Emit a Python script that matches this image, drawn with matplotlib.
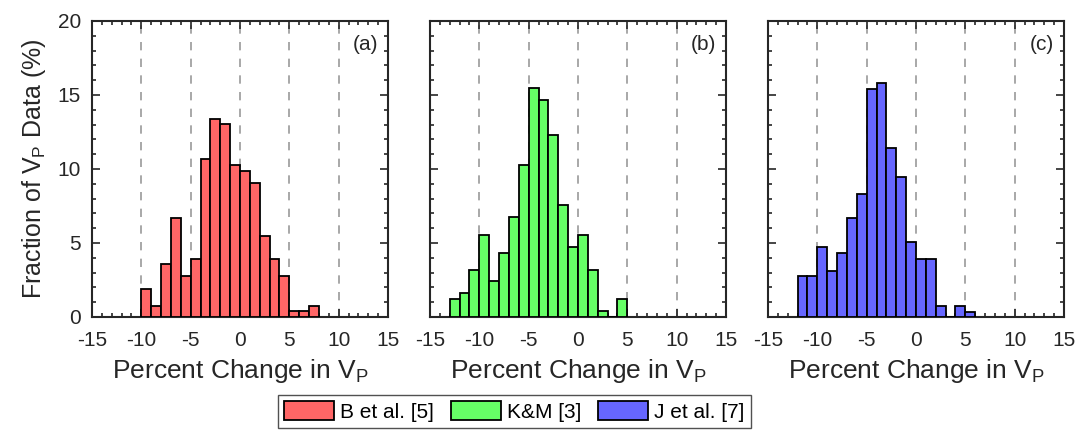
import numpy as np
import matplotlib
matplotlib.use("Agg")
import matplotlib.pyplot as plt
from matplotlib.patches import Patch
from matplotlib.ticker import MultipleLocator

plt.rcParams['font.family'] = ['Liberation Sans', 'DejaVu Sans']
plt.rcParams['mathtext.fontset'] = 'custom'
plt.rcParams['mathtext.rm'] = 'Liberation Sans'
plt.rcParams['mathtext.it'] = 'Liberation Sans'

# Histogramme : bords gauches des classes (largeur 1 %) et fractions (%)
left_a = np.arange(-10, 8)
frac_a = [1.9, 0.75, 3.55, 6.7, 2.75, 3.95, 10.65, 13.4, 13.05, 10.25,
          9.85, 9.05, 5.5, 3.95, 2.75, 0.4, 0.4, 0.75]

left_b = np.arange(-13, 5)
frac_b = [1.2, 1.6, 3.15, 5.55, 2.4, 4.35, 6.75, 10.3, 15.45, 14.65,
          12.3, 7.55, 4.75, 5.55, 3.15, 0.4, 0.0, 1.2]

left_c = np.arange(-12, 6)
frac_c = [2.75, 2.75, 4.7, 3.1, 4.3, 6.7, 8.3, 15.4, 15.8, 11.45,
          9.45, 5.1, 3.95, 3.95, 0.75, 0.0, 0.75, 0.35]

names = ['B et al. [5]', 'K&M [3]', 'J et al. [7]']
colors = ['#ff6666', '#66ff66', '#6666ff']
tags = ['(a)', '(b)', '(c)']
xticks = [-15, -10, -5, 0, 5, 10, 15]

fig = plt.figure(figsize=(10.78, 4.32), dpi=100)
lefts = [92 / 1078, 430 / 1078, 768 / 1078]
w, b, h = 296 / 1078, 115 / 432, 296 / 432

data = [(left_a, frac_a), (left_b, frac_b), (left_c, frac_c)]
for i, (edges, fr) in enumerate(data):
    ax = fig.add_axes([lefts[i], b, w, h])
    ax.bar(edges, fr, width=1, align='edge', color=colors[i],
           edgecolor='black', linewidth=1.3, zorder=3)
    ax.set_xlim(-15, 15)
    ax.set_ylim(0, 20)
    ax.set_xticks(xticks)
    ax.set_xticklabels([str(t) for t in xticks])
    ax.set_yticks([0, 5, 10, 15, 20])
    ax.xaxis.set_minor_locator(MultipleLocator(1))
    ax.yaxis.set_minor_locator(MultipleLocator(1))
    ax.tick_params(which='both', direction='in', top=True, right=True,
                   labelsize=15, colors='#262626', width=1.2)
    ax.tick_params(which='major', length=6)
    ax.tick_params(axis='x', which='major', pad=10)
    ax.tick_params(axis='y', which='major', pad=8)
    ax.tick_params(which='minor', length=3)
    for s in ax.spines.values():
        s.set_linewidth(1.5)
        s.set_color('#262626')
    ax.grid(axis='x', linestyle=(0, (5, 5)), color='#999999', linewidth=1.2, zorder=0)
    ax.set_axisbelow(True)
    if i > 0:
        ax.set_yticklabels([])
    else:
        ax.set_ylabel('Fraction of $\\mathrm{V_P}$ Data (%)', fontsize=18,
                      color='#262626', labelpad=7)
    ax.set_xlabel('Percent Change in $\\mathrm{V_P}$', fontsize=19, color='#262626', labelpad=5)
    ax.text(14.0, 18.4, tags[i], fontsize=15, ha='right', va='center', color='#262626')

handles = [Patch(facecolor=c, edgecolor='black', linewidth=1.3) for c in colors]
fig.legend(handles, names, ncol=3, loc='lower center', bbox_to_anchor=(0.477, -0.005),
           fontsize=15, frameon=True, fancybox=False, edgecolor='#262626',
           handlelength=2.4, handleheight=1.0, handletextpad=0.3, columnspacing=0.8,
           borderpad=0.3, borderaxespad=0.3)

fig.savefig('out.png', dpi=100)
